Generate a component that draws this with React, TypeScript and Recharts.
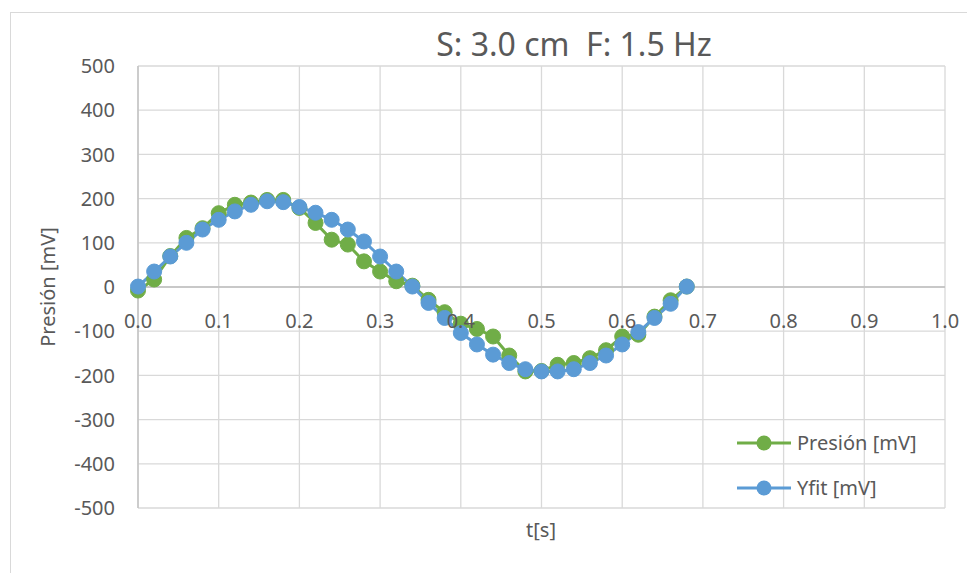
import React from "react";
import {
  LineChart,
  Line,
  XAxis,
  YAxis,
  CartesianGrid,
  ReferenceLine,
  Legend,
} from "recharts";

// time samples [s]
const tiempo = [
  0, 0.02, 0.04, 0.06, 0.08, 0.1, 0.12, 0.14, 0.16, 0.18, 0.2, 0.22, 0.24,
  0.26, 0.28, 0.3, 0.32, 0.34, 0.36, 0.38, 0.4, 0.42, 0.44, 0.46, 0.48, 0.5,
  0.52, 0.54, 0.56, 0.58, 0.6, 0.62, 0.64, 0.66, 0.68,
];

// measured pressure [mV]
const presion = [
  -8, 17, 70, 111, 133, 167, 186, 191, 197, 197, 179, 145, 107, 96, 58, 35, 13,
  3, -29, -57, -83, -95, -112, -155, -191, -190, -176, -172, -161, -143, -112,
  -108, -67, -30, 1,
];

// fitted curve [mV]
const yfit = [
  1, 35, 69, 100, 130, 152, 171, 186, 194, 192, 181, 168, 152, 130, 103, 69, 35,
  1, -36, -70, -104, -130, -153, -172, -186, -191, -191, -186, -172, -155, -130,
  -102, -70, -38, 1,
];

const xTicks = [0, 0.1, 0.2, 0.3, 0.4, 0.5, 0.6, 0.7, 0.8, 0.9, 1.0];
const yTicks = [-500, -400, -300, -200, -100, 0, 100, 200, 300, 400, 500];

const GREEN = "#70ad47";
const BLUE = "#5b9bd5";
const TEXT = "#595959";
const FONT = "'Noto Sans', sans-serif";

const W = 967;
const H = 573;
const margin = { top: 66, right: 22, bottom: 35, left: 78 };
const plotH = H - margin.top - margin.bottom - 30;

const data = tiempo.map((t, i) => ({ t, presion: presion[i], yfit: yfit[i] }));

// x labels sit under the zero line (Excel axis crossing), not at the plot bottom
const XTick = (props: any) => {
  const { x, y, payload } = props;
  return (
    <text
      x={x}
      y={y - plotH / 2 + 33}
      textAnchor="middle"
      dominantBaseline="central"
      fill={TEXT}
      fontSize={20}
      fontFamily={FONT}
    >
      {Number(payload.value).toFixed(1)}
    </text>
  );
};

const renderLegend = () => {
  const items = [
    { name: "Presión [mV]", color: GREEN },
    { name: "Yfit [mV]", color: BLUE },
  ];
  return (
    <div style={{ fontFamily: FONT, fontSize: 20, color: TEXT }}>
      {items.map((it) => (
        <div
          key={it.name}
          style={{ display: "flex", alignItems: "center", height: 45 }}
        >
          <svg width={56} height={18} style={{ marginRight: 4 }}>
            <line x1={0} y1={9} x2={54} y2={9} stroke={it.color} strokeWidth={3} />
            <circle cx={27} cy={9} r={7.5} fill={it.color} />
          </svg>
          <span>{it.name}</span>
        </div>
      ))}
    </div>
  );
};

export default function App() {
  return (
    <div
      style={{
        position: "absolute",
        left: 0,
        top: 0,
        width: W,
        height: H,
        background: "#fff",
        overflow: "hidden",
        fontFamily: FONT,
      }}
    >
      <div
        style={{
          position: "absolute",
          left: 10,
          top: 12,
          width: 1000,
          height: 600,
          border: "1px solid #d9d9d9",
        }}
      />
      <div
        style={{
          position: "absolute",
          left: 374,
          width: 400,
          top: 22,
          textAlign: "center",
          fontSize: 32,
          color: TEXT,
          whiteSpace: "pre",
        }}
      >
        {"S: 3.0 cm  F: 1.5 Hz"}
      </div>
      <div
        style={{
          position: "absolute",
          left: 441,
          width: 200,
          top: 516,
          textAlign: "center",
          fontSize: 20,
          color: TEXT,
        }}
      >
        t[s]
      </div>
      <div
        style={{
          position: "absolute",
          left: 48 - 100,
          top: 287 - 14,
          width: 200,
          height: 28,
          lineHeight: "28px",
          textAlign: "center",
          fontSize: 20,
          color: TEXT,
          transform: "rotate(-90deg)",
        }}
      >
        Presión [mV]
      </div>
      <div style={{ position: "absolute", left: 0, top: 0 }}>
        <LineChart width={W} height={H} data={data} margin={margin}>
          <CartesianGrid stroke="#d9d9d9" strokeWidth={1.3} />
          <XAxis
            dataKey="t"
            type="number"
            domain={[0, 1]}
            ticks={xTicks}
            axisLine={false}
            tickLine={false}
            tickSize={0}
            tickMargin={0}
            height={30}
            tick={<XTick />}
            interval={0}
          />
          <YAxis
            type="number"
            domain={[-500, 500]}
            ticks={yTicks}
            width={60}
            axisLine={{ stroke: "#bfbfbf", strokeWidth: 1.3 }}
            tickLine={false}
            tickSize={0}
            tickMargin={23}
            interval={0}
            tick={{ fill: TEXT, fontSize: 20, fontFamily: FONT }}
          />
          <ReferenceLine y={0} stroke="#bfbfbf" strokeWidth={1.5} />
          <Legend
            layout="horizontal"
            align="center"
            verticalAlign="middle"
            content={renderLegend}
            wrapperStyle={{ left: 737, top: 420, width: 220 }}
          />
          <Line
            type="linear"
            dataKey="presion"
            name="Presión [mV]"
            stroke={GREEN}
            strokeWidth={3}
            dot={{ r: 7.5, fill: GREEN, stroke: GREEN, strokeWidth: 1 }}
            isAnimationActive={false}
          />
          <Line
            type="linear"
            dataKey="yfit"
            name="Yfit [mV]"
            stroke={BLUE}
            strokeWidth={3}
            dot={{ r: 7.5, fill: BLUE, stroke: BLUE, strokeWidth: 1 }}
            isAnimationActive={false}
          />
        </LineChart>
      </div>
    </div>
  );
}
